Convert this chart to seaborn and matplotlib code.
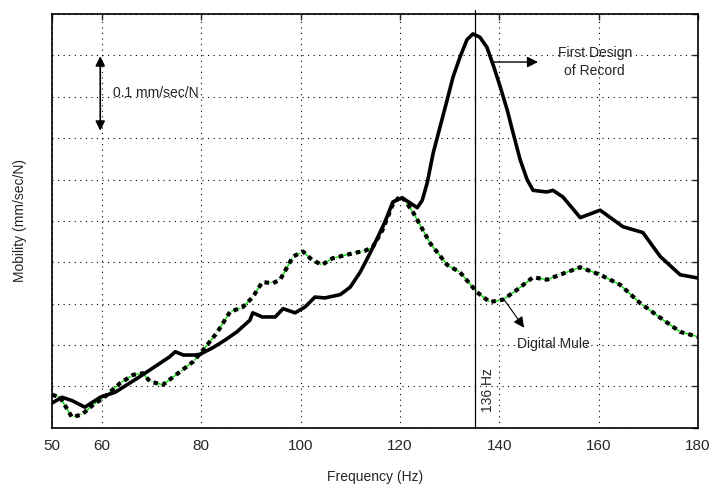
import matplotlib
matplotlib.use("Agg")
import matplotlib.pyplot as plt
import seaborn as sns
import numpy as np

# First Design of Record (Hz, mm/sec/N)
freq_design = [50, 52, 54, 56.6, 59.7, 62.7, 67.7, 69.7, 73.7, 74.8, 76.4, 78.8,
               79.8, 82.4, 84.8, 87.2, 89.8, 90.4, 92.3, 94.9, 96.5, 98.9, 100.9,
               102.9, 104.9, 108, 110, 112, 114, 115.6, 117, 118.6, 120.4, 122.0,
               123.5, 124.5, 125.5, 126.7, 128.1, 129.5, 130.7, 132.1, 133.5, 134.7,
               136.1, 137.5, 138.8, 140.2, 141.6, 142.8, 144.2, 145.6, 146.8, 149.6,
               150.8, 152.8, 156.3, 160.3, 164.9, 168.9, 172.4, 176.4, 180]
mob_design = [0.030, 0.037, 0.033, 0.025, 0.037, 0.043, 0.062, 0.070, 0.086, 0.092,
              0.088, 0.088, 0.089, 0.097, 0.106, 0.116, 0.130, 0.139, 0.134, 0.134,
              0.144, 0.139, 0.146, 0.158, 0.157, 0.161, 0.170, 0.188, 0.211, 0.231,
              0.249, 0.273, 0.278, 0.272, 0.266, 0.275, 0.296, 0.332, 0.364, 0.396,
              0.424, 0.448, 0.469, 0.476, 0.472, 0.460, 0.438, 0.412, 0.384, 0.356,
              0.324, 0.300, 0.287, 0.285, 0.287, 0.279, 0.254, 0.263, 0.243, 0.236,
              0.207, 0.185, 0.181]

# Digital Mule (Hz, mm/sec/N)
freq_mule = [50, 51.6, 54, 56, 58.3, 60.3, 63.7, 66.3, 68.3, 69.7, 72.3, 75.8, 78.4,
             80.4, 83.2, 85.8, 88.4, 90.4, 92.3, 94.5, 95.9, 98.5, 100.5, 102.3,
             104.3, 106.5, 110.6, 113, 114.6, 116.5, 118.5, 120, 121, 122.7, 126.1,
             129.5, 132.1, 135.5, 138.1, 140.8, 143.6, 146.8, 149.6, 152.2, 156.3,
             160.3, 164.3, 168.3, 172.4, 176.4, 180]
mob_mule = [0.040, 0.037, 0.013, 0.016, 0.028, 0.036, 0.054, 0.064, 0.066, 0.056,
            0.052, 0.068, 0.080, 0.094, 0.115, 0.140, 0.146, 0.158, 0.176, 0.175,
            0.179, 0.207, 0.213, 0.203, 0.197, 0.205, 0.211, 0.214, 0.219, 0.239,
            0.269, 0.280, 0.275, 0.260, 0.223, 0.197, 0.188, 0.164, 0.152, 0.155,
            0.167, 0.182, 0.179, 0.185, 0.194, 0.185, 0.173, 0.151, 0.133, 0.116,
            0.110]

x_ticks = [50, 60, 80, 100, 120, 140, 160, 180]
marker_freq = 135.2

sns.set_style("white")
plt.rcParams['font.family'] = ['Liberation Sans', 'DejaVu Sans']

fig = plt.figure(figsize=(7.13, 4.84), dpi=100)
ax = fig.add_axes([0.073, 0.116, 0.906, 0.855])

# measured traces underneath (red / green with + markers)
sns.lineplot(x=freq_design, y=mob_design, ax=ax, color='red', lw=1.0,
             marker='+', markersize=7, markeredgewidth=1.0, sort=False)
sns.lineplot(x=freq_mule, y=mob_mule, ax=ax, color='#00dd00', lw=1.0,
             marker='+', markersize=6, markeredgewidth=1.0, sort=False)
# model overlays
sns.lineplot(x=freq_design, y=mob_design, ax=ax, color='black', lw=2.6, sort=False)
sns.lineplot(x=freq_mule, y=mob_mule, ax=ax, color='black', lw=3.0,
             linestyle=(0, (1.1, 1.0)), sort=False)

ax.set_xlim(50, 180)
ax.set_ylim(0, 0.5)
ax.set_xticks(x_ticks)
ax.set_yticks(np.arange(0, 0.501, 0.05))
ax.set_yticklabels([])
ax.tick_params(direction='in', top=True, right=True, length=4, width=1,
               labelsize=11, pad=8)
ax.grid(True, color='black', linestyle=(0, (1, 4)), linewidth=0.8)
for s in ax.spines.values():
    s.set_color('black')
    s.set_linewidth(1.2)

ax.set_xlabel('Frequency (Hz)', fontsize=10, labelpad=12)
ax.set_ylabel('Mobility (mm/sec/N)', fontsize=10, labelpad=10)

# 136 Hz marker line
ax.plot([marker_freq, marker_freq], [0, 0.505], color='black', lw=0.9,
        clip_on=False, zorder=5)
ax.text(137.8, 0.046, '136 Hz', rotation=90, ha='center', va='center', fontsize=10)

# scale arrow
ax.annotate('', xy=(59.7, 0.449), xytext=(59.7, 0.359),
            arrowprops=dict(arrowstyle='<|-|>', color='black', lw=1.2,
                            mutation_scale=14, shrinkA=0, shrinkB=0))
ax.text(62.2, 0.404, '0.1 mm/sec/N', ha='left', va='center', fontsize=10)

# labels
ax.annotate('', xy=(147.8, 0.442), xytext=(138.3, 0.442),
            arrowprops=dict(arrowstyle='-|>', color='black', lw=1,
                            mutation_scale=16, shrinkA=0, shrinkB=0))
ax.text(159.2, 0.442, 'First Design\nof Record', ha='center', va='center',
        fontsize=10, linespacing=1.3)
ax.annotate('', xy=(145.0, 0.121), xytext=(141.2, 0.153),
            arrowprops=dict(arrowstyle='-|>', color='black', lw=0.8,
                            mutation_scale=16, shrinkA=0, shrinkB=0))
ax.text(150.9, 0.101, 'Digital Mule', ha='center', va='center', fontsize=10)

fig.savefig('out.png', dpi=100)
